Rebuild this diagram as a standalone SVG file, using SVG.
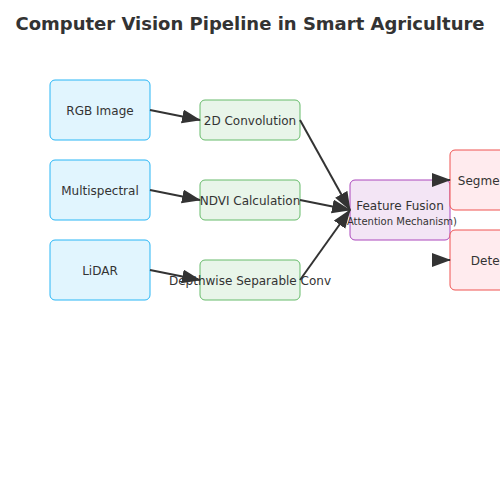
<svg xmlns="http://www.w3.org/2000/svg" width="500" height="500" viewBox="0 0 500 500">
<style>
text{font-family:"DejaVu Sans",Verdana,sans-serif;fill:#333;text-anchor:middle}
.t{font-size:12px}
.s{font-size:10px}
.title{font-size:18px;font-weight:bold}
.in{fill:#e1f5fe;stroke:#29b6f6;stroke-width:1}
.pr{fill:#e8f5e9;stroke:#66bb6a;stroke-width:1}
.fu{fill:#f3e5f5;stroke:#ab47bc;stroke-width:1}
.ou{fill:#ffebee;stroke:#ef5350;stroke-width:1}
.c{stroke:#333;stroke-width:2;fill:none;marker-end:url(#ah)}
</style>
<defs>
<marker id="ah" markerUnits="userSpaceOnUse" markerWidth="20" markerHeight="15" refX="18" refY="7" orient="auto">
<path d="M0,0 L19,7 L0,14 z" fill="#333"/>
</marker>
</defs>
<rect width="500" height="500" fill="#fff"/>
<text class="title" x="250" y="30">Computer Vision Pipeline in Smart Agriculture</text>
<g id="rgb"><rect class="in" x="50" y="80" width="100" height="60" rx="5"/><text class="t" x="100" y="115">RGB Image</text></g>
<g id="multispectral"><rect class="in" x="50" y="160" width="100" height="60" rx="5"/><text class="t" x="100" y="195">Multispectral</text></g>
<g id="lidar"><rect class="in" x="50" y="240" width="100" height="60" rx="5"/><text class="t" x="100" y="275">LiDAR</text></g>
<g id="conv2d"><rect class="pr" x="200" y="100" width="100" height="40" rx="5"/><text class="t" x="250" y="125">2D Convolution</text></g>
<g id="ndvi"><rect class="pr" x="200" y="180" width="100" height="40" rx="5"/><text class="t" x="250" y="205">NDVI Calculation</text></g>
<g id="dwconv"><rect class="pr" x="200" y="260" width="100" height="40" rx="5"/><text class="t" x="250" y="285">Depthwise Separable Conv</text></g>
<g id="fusion"><rect class="fu" x="350" y="180" width="100" height="60" rx="5"/><text class="t" x="400" y="210">Feature Fusion</text><text class="s" x="400" y="225">(Attention Mechanism)</text></g>
<g id="segmentation"><rect class="ou" x="450" y="150" width="100" height="60" rx="5"/><text class="t" x="500" y="185">Segmentation</text></g>
<g id="detection"><rect class="ou" x="450" y="230" width="100" height="60" rx="5"/><text class="t" x="500" y="265">Detection</text></g>
<g id="connectors">
<path class="c" d="M150,110 L200,120"/>
<path class="c" d="M150,190 L200,200"/>
<path class="c" d="M150,270 L200,280"/>
<path class="c" d="M300,120 L350,210"/>
<path class="c" d="M300,200 L350,210"/>
<path class="c" d="M300,280 L350,210"/>
<path class="c" d="M440,180 L450,180" stroke-width="0"/>
<path class="c" d="M440,260 L450,260" stroke-width="0"/>
</g>
</svg>
